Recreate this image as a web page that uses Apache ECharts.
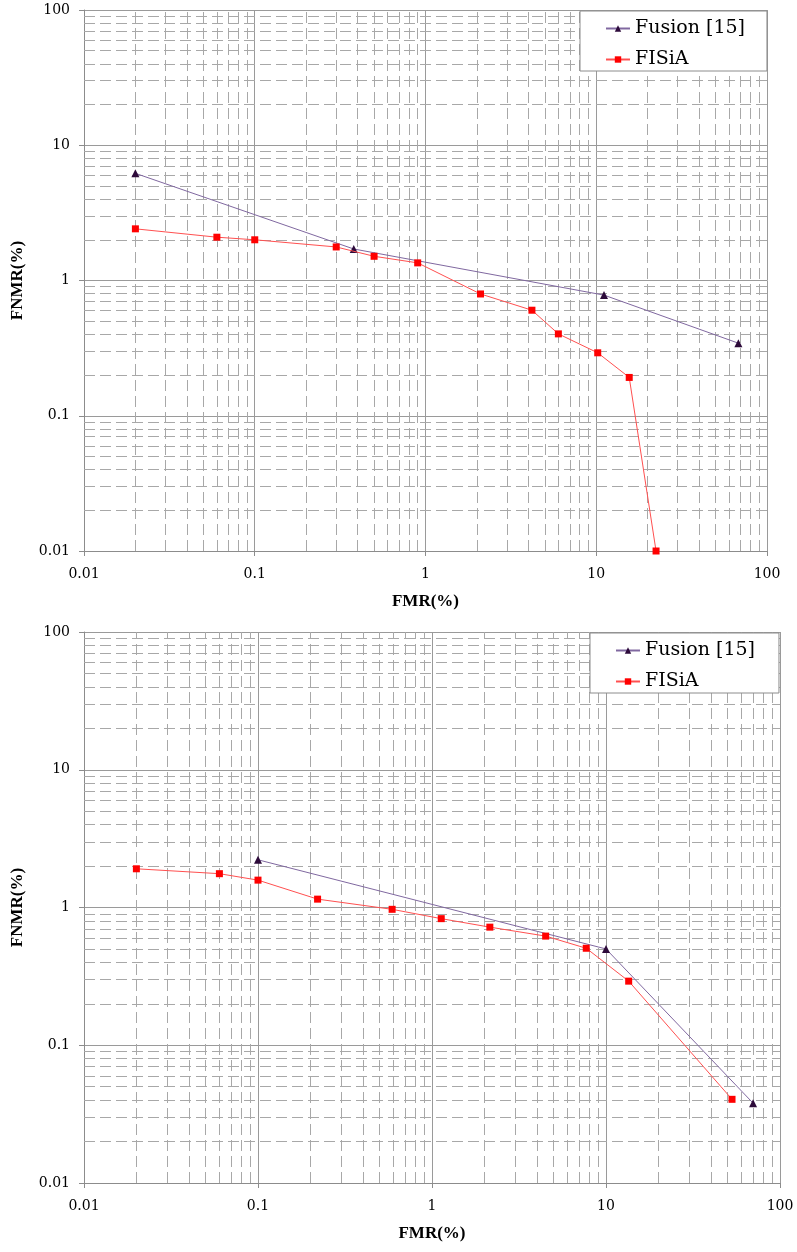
<!DOCTYPE html>
<html>
<head>
<meta charset="utf-8">
<script src="https://cdn.jsdelivr.net/npm/echarts@6/dist/echarts.min.js"></script>
<style>
html,body{margin:0;padding:0;background:#fff;}
#chart{width:797px;height:1252px;}
</style>
</head>
<body>
<div id="chart"></div>
<script>
// ---- data ----
const tickLabels = ['0.01', '0.1', '1', '10', '100'];
const seriesNames = ['Fusion [15]', 'FISiA'];

const fusionTopX = [0.02, 0.38, 11.1, 68];
const fusionTopY = [6.2, 1.71, 0.78, 0.344];
const fisiaTopX = [0.02, 0.06, 0.1, 0.3, 0.5, 0.9, 2.1, 4.2, 6.0, 10.2, 15.6, 22.4];
const fisiaTopY = [2.41, 2.09, 2.0, 1.77, 1.51, 1.35, 0.795, 0.603, 0.403, 0.292, 0.192, 0.01];

const fusionBotX = [0.1, 10, 70];
const fusionBotY = [2.22, 0.5, 0.038];
const fisiaBotX = [0.02, 0.06, 0.1, 0.22, 0.59, 1.13, 2.15, 4.5, 7.7, 13.5, 53];
const fisiaBotY = [1.91, 1.76, 1.58, 1.15, 0.97, 0.83, 0.72, 0.62, 0.506, 0.292, 0.0405];

// minor grid positions (2..9 x each decade)
const decades = [0.01, 0.1, 1, 10];
const minorMult = [2, 3, 4, 5, 6, 7, 8, 9];

// ---- build ----
const minorVals = [];
decades.forEach(d => minorMult.forEach(m => minorVals.push(+(d * m).toPrecision(3))));
const pairs = (xs, ys) => xs.map((x, i) => [x, ys[i]]);

const grids = [
  {left: 84, top: 10, width: 683, height: 541},
  {left: 84, top: 632, width: 696, height: 551}
];

const labelFmt = v => {
  const e = Math.round(Math.log10(v));
  return tickLabels[e + 2] !== undefined ? tickLabels[e + 2] : '';
};

function xAxisCfg(gi) {
  return {
    type: 'log', logBase: 10, min: 0.01, max: 100, gridIndex: gi,
    axisLine: {show: true, lineStyle: {color: '#8c8c8c', width: 1}},
    axisTick: {show: true, length: 5, lineStyle: {color: '#8c8c8c'}},
    splitLine: {show: true, lineStyle: {color: '#9a9a9a', width: 1, type: 'solid'}},
    axisLabel: {formatter: labelFmt, fontFamily: 'DejaVu Serif', fontSize: 14, color: '#000', margin: 16},
    name: 'FMR(%)', nameLocation: 'middle', nameGap: 42,
    nameTextStyle: {fontFamily: 'Liberation Serif', fontWeight: 'bold', fontSize: 17, color: '#000'}
  };
}
function yAxisCfg(gi) {
  return {
    type: 'log', logBase: 10, min: 0.01, max: 100, gridIndex: gi,
    axisLine: {show: true, lineStyle: {color: '#8c8c8c', width: 1}},
    axisTick: {show: true, length: 5, lineStyle: {color: '#8c8c8c'}},
    splitLine: {show: true, lineStyle: {color: '#9a9a9a', width: 1, type: 'solid'}},
    axisLabel: {formatter: labelFmt, fontFamily: 'DejaVu Serif', fontSize: 14, color: '#000', margin: 14},
    name: 'FNMR(%)', nameLocation: 'middle', nameGap: 58,
    nameTextStyle: {fontFamily: 'Liberation Serif', fontWeight: 'bold', fontSize: 17, color: '#000'}
  };
}
function minorSeries(gi) {
  return {
    type: 'line', xAxisIndex: gi, yAxisIndex: gi, data: [], silent: true, z: 1,
    markLine: {
      silent: true, symbol: ['none', 'none'], animation: false, z: 1,
      label: {show: false},
      lineStyle: {color: '#a8a8a8', width: 1, type: [11, 5]},
      emphasis: {disabled: true},
      data: minorVals.map(v => ({xAxis: v})).concat(minorVals.map(v => ({yAxis: v})))
    }
  };
}
function fusionSeries(gi, xs, ys) {
  return {
    name: seriesNames[0], type: 'line', xAxisIndex: gi, yAxisIndex: gi, clip: false, z: 6,
    data: pairs(xs, ys), symbol: 'triangle', symbolSize: 8,
    itemStyle: {color: '#2d0a3a'}, lineStyle: {color: '#8068a0', width: 1}
  };
}
function fisiaSeries(gi, xs, ys) {
  return {
    name: seriesNames[1], type: 'line', xAxisIndex: gi, yAxisIndex: gi, clip: false, z: 7,
    data: pairs(xs, ys), symbol: 'rect', symbolSize: 7,
    itemStyle: {color: '#ff0000'}, lineStyle: {color: '#ff5050', width: 1}
  };
}
function legendCfg(left, top, padRight) {
  return {
    data: seriesNames, orient: 'vertical', left: left, top: top, z: 10,
    backgroundColor: '#fff', borderColor: '#8c8c8c', borderWidth: 1, borderRadius: 0,
    padding: [7, padRight, 1, 25], itemWidth: 24, itemHeight: 8, itemGap: 10,
    selectedMode: false,
    textStyle: {fontFamily: 'DejaVu Serif', fontSize: 19, lineHeight: 21, color: '#000'}
  };
}

const chart = echarts.init(document.getElementById('chart'), null, {renderer: 'canvas'});
chart.setOption({
  backgroundColor: '#fff',
  animation: false,
  grid: grids,
  xAxis: [xAxisCfg(0), xAxisCfg(1)],
  yAxis: [yAxisCfg(0), yAxisCfg(1)],
  legend: [legendCfg(580, 11, 22), legendCfg(590, 633, 24)],
  series: [
    minorSeries(0), minorSeries(1),
    fusionSeries(0, fusionTopX, fusionTopY), fisiaSeries(0, fisiaTopX, fisiaTopY),
    fusionSeries(1, fusionBotX, fusionBotY), fisiaSeries(1, fisiaBotX, fisiaBotY)
  ]
});
</script>
</body>
</html>
